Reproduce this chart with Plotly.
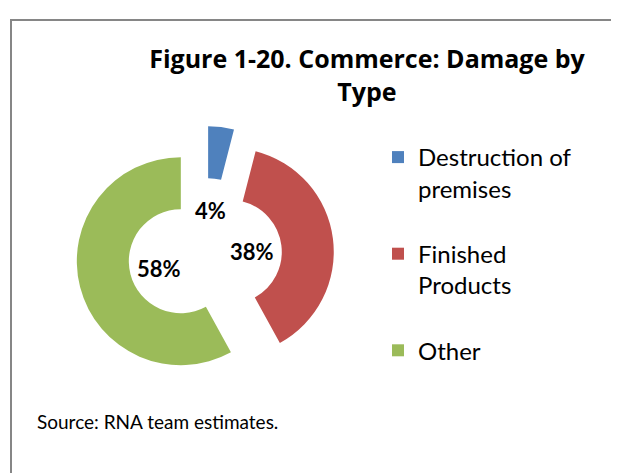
import numpy as np
import plotly.graph_objects as go

labels = ["Destruction of<br>premises<br> ", "Finished<br>Products<br> ", "Other"]
values = [4, 38, 58]
colors = ["#4F81BD", "#C0504D", "#9BBB59"]

# the page body has an 8px margin, so the figure is drawn 8px in and 8px down
OFF = 8
W, H = 619 - OFF, 473 - OFF


def px(x):
    return (x - OFF) / W


def py(y):
    return 1 - (y - OFF) / H


# pie centre and outer radius in window pixels
cx, cy, R = 205, 255, 104
pull = 0.24
half = R * (1 + pull)

fig = go.Figure(go.Pie(
    labels=labels,
    values=values,
    marker=dict(colors=colors),
    hole=0.5,
    pull=[pull] * len(values),
    sort=False,
    direction="clockwise",
    rotation=0,
    textinfo="none",
    hoverinfo="label+percent",
    domain=dict(x=[px(cx - half), px(cx + half)],
                y=[py(cy + half), py(cy - half)]),
))

# percentage labels sit in the hole, along each slice bisector
total = sum(values)
start = 0
for v in values:
    mid = (start + v / 2) / total * 2 * np.pi
    start += v
    lx = cx + 47 * np.sin(mid)
    ly = cy - 47 * np.cos(mid) + 2
    fig.add_annotation(x=px(lx), y=py(ly), xref="paper", yref="paper",
                       xanchor="center", yanchor="middle",
                       text="<b>%d%%</b>" % round(v / total * 100), showarrow=False,
                       font=dict(family="Lato", size=22, color="#000000"))

fig.add_annotation(x=px(35), y=py(421), xref="paper", yref="paper",
                   xanchor="left", yanchor="middle", text="Source: RNA team estimates.",
                   showarrow=False, font=dict(family="Lato", size=19, color="#000000"))

# chart frame
fig.add_shape(type="rect", xref="paper", yref="paper",
              x0=px(11), x1=1.05, y0=-0.05, y1=py(20),
              line=dict(color="#868686", width=2))

fig.update_layout(
    width=W, height=H,
    margin=dict(l=0, r=0, t=0, b=0),
    paper_bgcolor="white",
    title=dict(text="<b>Figure 1-20. Commerce: Damage by<br>Type</b>",
               x=px(367), xanchor="center", y=py(68), yanchor="top",
               font=dict(family="Open Sans", size=25, color="#000000")),
    legend=dict(x=px(378), xanchor="left", y=py(135), yanchor="top",
                valign="top", font=dict(family="Lato", size=24, color="#000000"),
                bgcolor="rgba(0,0,0,0)"),
)

fig.write_html("out.html")
